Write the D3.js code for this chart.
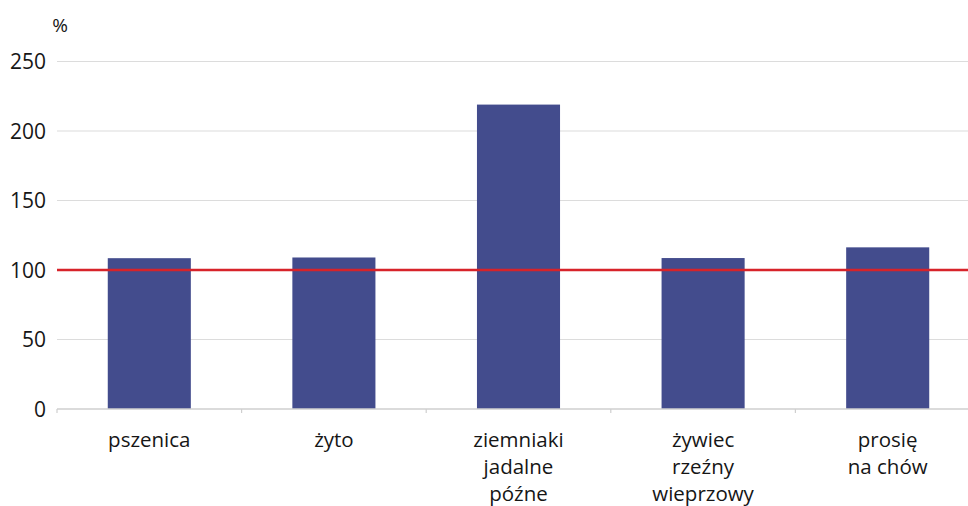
<!DOCTYPE html>
<html><head><meta charset="utf-8">
<script src="https://cdn.jsdelivr.net/npm/d3@7/dist/d3.min.js"></script>
<style>
html,body{margin:0;padding:0;background:#fff;}
text{font-family:"Open Sans",sans-serif;fill:#161616;}
</style></head><body>
<svg id="chart" width="968" height="506"></svg>
<script>
const categories = [["pszenica"],["żyto"],["ziemniaki","jadalne","późne"],["żywiec","rzeźny","wieprzowy"],["prosię","na chów"]];
const values = [108.5, 109, 219, 108.6, 116.3];
const yTicks = [0, 50, 100, 150, 200, 250];
const reference = 100;
const unitLabel = "%";

const svg = d3.select("#chart");
const x0 = 57, x1 = 980, yBase = 409, yTop = 61.5;
const ids = categories.map((c,i)=>i);
const x = d3.scaleBand().domain(ids).range([x0, x1]).paddingInner(0.55).paddingOuter(0.275);
const y = d3.scaleLinear().domain([0, 250]).range([yBase, yTop]);

// gridlines
svg.append("g").selectAll("line").data(yTicks.filter(d=>d>0)).join("line")
  .attr("x1", x0).attr("x2", 968).attr("y1", d=>y(d)).attr("y2", d=>y(d))
  .attr("stroke", "#dcdcdc").attr("stroke-width", 1.2);

// y tick labels
svg.append("g").selectAll("text").data(yTicks).join("text")
  .attr("x", 46).attr("y", d=>y(d)).attr("dy", "0.36em")
  .attr("text-anchor", "end").attr("font-size", 21).text(d=>d);

svg.append("text").attr("x", 60).attr("y", 32).attr("text-anchor","middle")
  .attr("font-size", 19).text(unitLabel);

// bars
svg.append("g").selectAll("rect").data(values).join("rect")
  .attr("x", (d,i)=>x(i)).attr("width", x.bandwidth())
  .attr("y", d=>y(d)).attr("height", d=>y(0)-y(d))
  .attr("fill", "#434c8d");

// x axis
const xAxis = svg.append("g").attr("transform", `translate(0,${yBase})`);
xAxis.append("line").attr("x1", x0).attr("x2", 968).attr("stroke", "#cfcfcf").attr("stroke-width", 1.4);
const step = x.step();
xAxis.selectAll("line.tick").data(d3.range(0, categories.length+1)).join("line").attr("class","tick")
  .attr("x1", i=>x0 + i*step).attr("x2", i=>x0 + i*step).attr("y1", 0).attr("y2", 4)
  .attr("stroke", "#cfcfcf").attr("stroke-width", 1.2);

// category labels
const lab = svg.append("g").selectAll("text").data(categories).join("text")
  .attr("x", (d,i)=>x(i)+x.bandwidth()/2).attr("y", 447)
  .attr("text-anchor","middle").attr("font-size", 20.5);
lab.selectAll("tspan").data(d=>d).join("tspan")
  .attr("x", function(){return this.parentNode.getAttribute("x");})
  .attr("dy", (d,j)=>j===0?0:27).text(d=>d);

// reference line
svg.append("line").attr("x1", x0).attr("x2", 968).attr("y1", y(reference)).attr("y2", y(reference))
  .attr("stroke", "#d7232a").attr("stroke-width", 2.4);
</script>
</body></html>
